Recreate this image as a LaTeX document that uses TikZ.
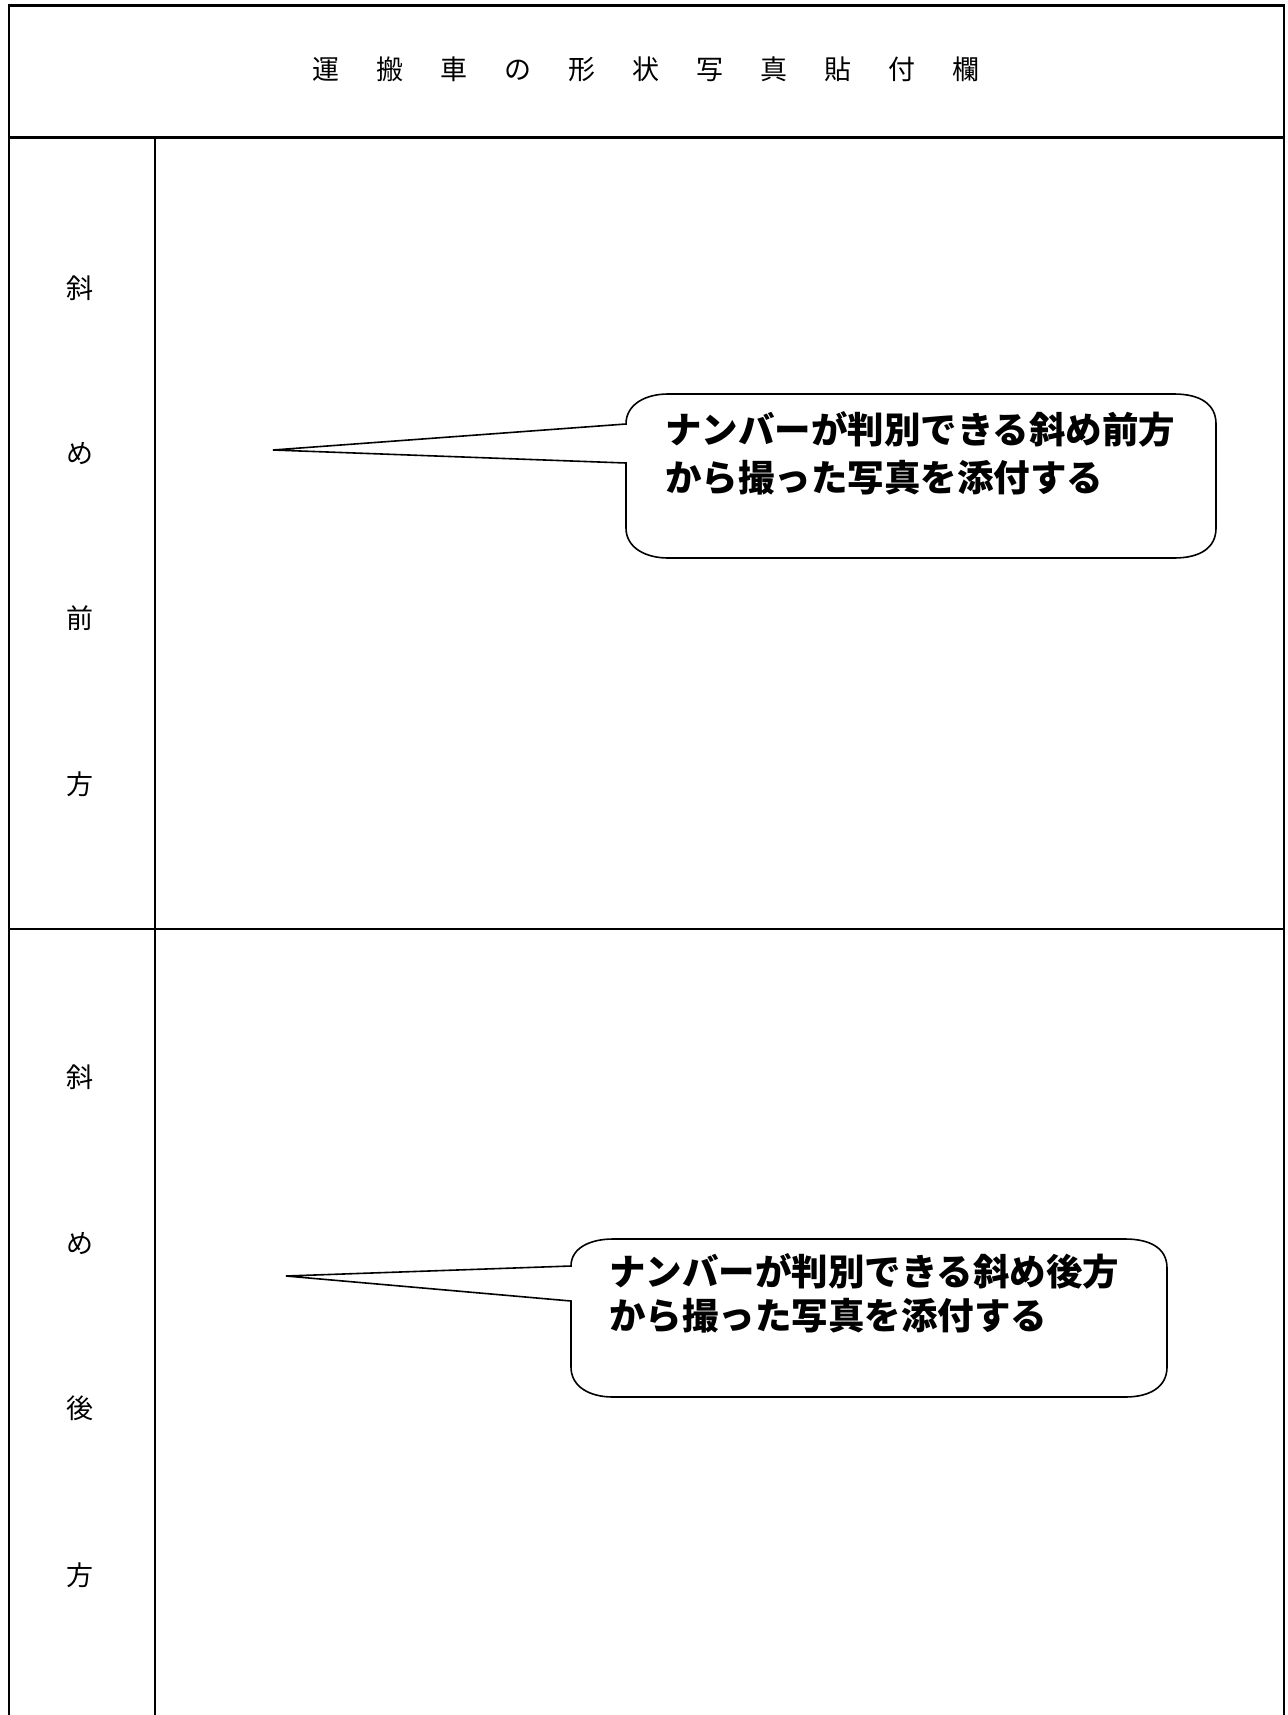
\documentclass[tikz,border=0pt]{standalone}
\usepackage{fontspec}
\newfontfamily\cjk{Noto Sans CJK JP}
\newcommand\tsp{\hspace{37pt}}
\begin{document}
\begin{tikzpicture}[x=1pt,y=-1pt,
  frame/.style={line width=2.2pt,line cap=rect},
  titletext/.style={font=\cjk\fontsize{27}{27}\selectfont,inner sep=0pt},
  sidelabel/.style={font=\cjk\fontsize{27}{27}\selectfont,inner sep=0pt},
  calloutline/.style={line width=1.6pt,line join=miter},
  callouttext/.style={font=\cjk\bfseries\fontsize{36.5}{36.5}\selectfont,inner sep=0pt,anchor=west}]
\useasboundingbox (0,0) rectangle (1287,1715);
% table frame
\coordinate (tl) at (9,5.5);
\coordinate (tr) at (1284,5.5);
\coordinate (bl) at (9,1715);
\coordinate (br) at (1284,1715);
\coordinate (hl) at (9,137.5);
\coordinate (hr) at (1284,137.5);
\coordinate (rl) at (9,929);
\coordinate (rr) at (1284,929);
\coordinate (ct) at (155,137.5);
\coordinate (cb) at (155,1715);
\draw[frame] (bl) -- (tl) -- (tr) -- (br);
\draw[frame] (hl) -- (hr);
\draw[frame] (rl) -- (rr);
\draw[frame] (ct) -- (cb);
% title
\node[titletext] (title) at (646,69) {運\tsp 搬\tsp 車\tsp の\tsp 形\tsp 状\tsp 写\tsp 真\tsp 貼\tsp 付\tsp 欄};
% side labels
\node[sidelabel] (a1) at (80,288) {斜};
\node[sidelabel] (a2) at (80,454) {め};
\node[sidelabel] (a3) at (80,618) {前};
\node[sidelabel] (a4) at (80,784) {方};
\node[sidelabel] (b1) at (80,1077) {斜};
\node[sidelabel] (b2) at (80,1244) {め};
\node[sidelabel] (b3) at (80,1408) {後};
\node[sidelabel] (b4) at (80,1575) {方};
% callout 1
\coordinate (p1) at (273,450);
\coordinate (u1) at (626,424);
\coordinate (d1) at (626,463);
\draw[calloutline,fill=white] (p1) -- (u1)
  .. controls (626,404) and (646,394) .. (668,394)
  -- (1174,394) .. controls (1200,394) and (1216,404) .. (1216,424)
  -- (1216,528) .. controls (1216,548) and (1200,558) .. (1174,558)
  -- (668,558) .. controls (646,558) and (626,548) .. (626,528)
  -- (d1) -- cycle;
\node[callouttext] (t1a) at (665,429) {ナンバーが判別できる斜め前方};
\node[callouttext] (t1b) at (665,478) {から撮った写真を添付する};
% callout 2
\coordinate (p2) at (286,1276);
\coordinate (u2) at (571,1266);
\coordinate (d2) at (571,1301);
\draw[calloutline,fill=white] (p2) -- (u2)
  .. controls (571,1248) and (590,1239) .. (613,1239)
  -- (1125,1239) .. controls (1150,1239) and (1167,1248) .. (1167,1268)
  -- (1167,1367) .. controls (1167,1387) and (1150,1397) .. (1125,1397)
  -- (613,1397) .. controls (590,1397) and (571,1387) .. (571,1367)
  -- (d2) -- cycle;
\node[callouttext] (t2a) at (609,1271) {ナンバーが判別できる斜め後方};
\node[callouttext] (t2b) at (609,1316) {から撮った写真を添付する};
\end{tikzpicture}
\end{document}
